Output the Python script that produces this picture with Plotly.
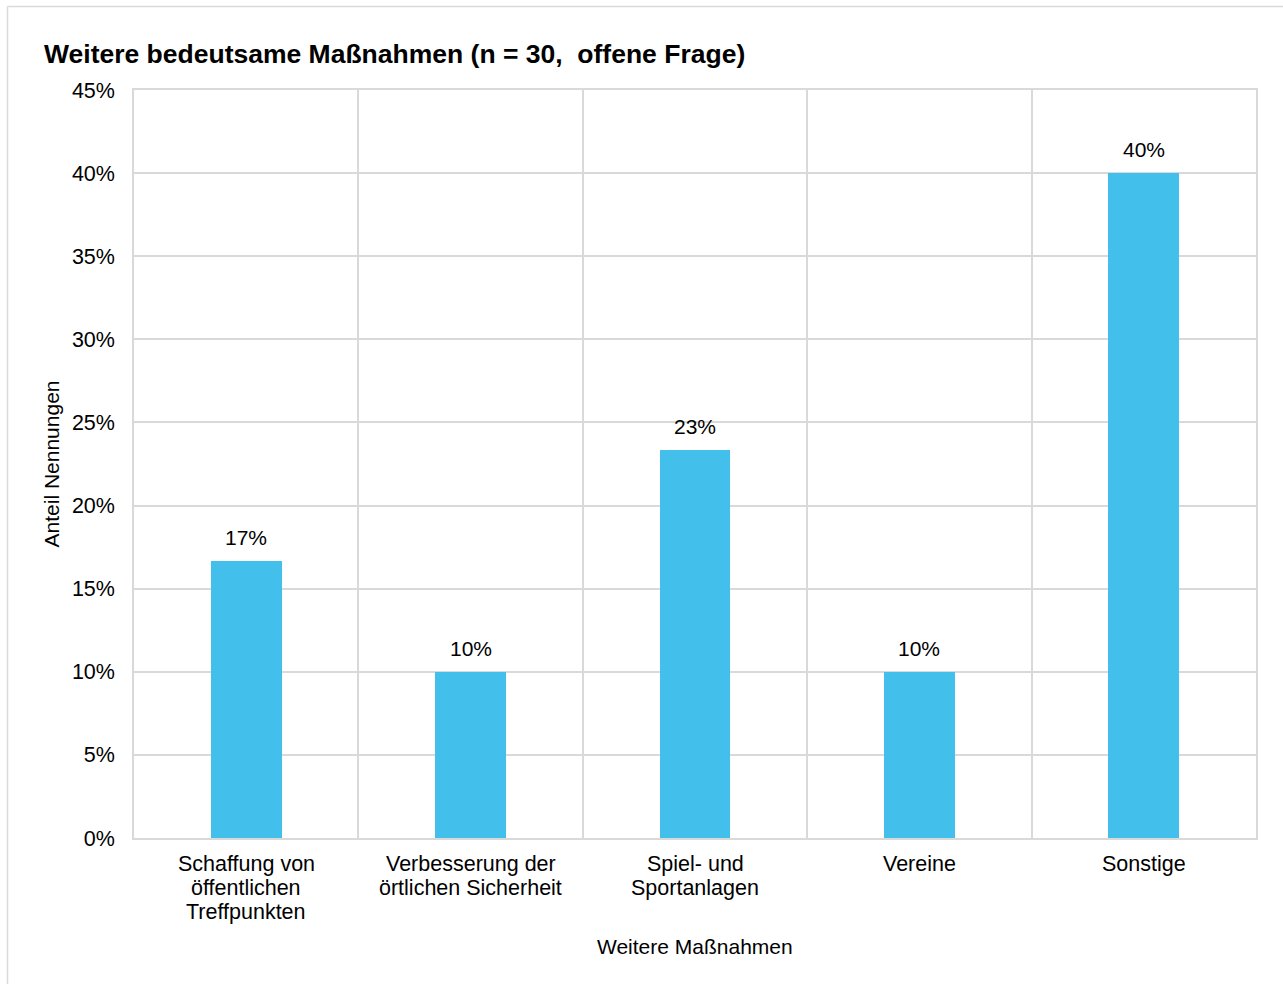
import plotly.graph_objects as go

categories = [
    "Schaffung von<br>öffentlichen<br>Treffpunkten",
    "Verbesserung der<br>örtlichen Sicherheit",
    "Spiel- und<br>Sportanlagen",
    "Vereine",
    "Sonstige",
]
shares = [0.1667, 0.10, 0.2333, 0.10, 0.40]
y_ticks = [0, 0.05, 0.10, 0.15, 0.20, 0.25, 0.30, 0.35, 0.40, 0.45]

title_text = "Weitere bedeutsame Maßnahmen (n = 30,  offene Frage)"
x_title = "Weitere Maßnahmen"
y_title = "Anteil Nennungen"

FONT = "Liberation Sans, Arial, sans-serif"
GRID = "#d9d9d9"
BAR = "#42c0eb"
FS = 21.5

fig = go.Figure()
fig.add_trace(go.Bar(
    x=categories, y=shares, marker_color=BAR, marker_line_width=0,
    width=0.315, hoverinfo="skip",
))

# value labels above bars
for c, v in zip(categories, shares):
    fig.add_annotation(x=c, y=v, text=f"{v:.0%}", showarrow=False,
                       yanchor="bottom", yshift=10,
                       font=dict(family=FONT, size=21, color="#000000"))

# category labels (tighter line spacing than plotly's default)
LINE_H = 24
for c in categories:
    for i, line in enumerate(c.split("<br>")):
        fig.add_annotation(x=c, xref="x", y=0, yref="paper", text=line,
                           showarrow=False, yanchor="middle",
                           yshift=-(26 + LINE_H * i),
                           font=dict(family=FONT, size=FS, color="#000000"))

# x-axis title
fig.add_annotation(x=0.5, xref="paper", y=0, yref="paper", text=x_title,
                   showarrow=False, yanchor="middle", yshift=-108,
                   font=dict(family=FONT, size=21, color="#000000"))

W, H = 1283, 984
L, R, T, B = 134, 27, 90, 146
pw, ph = W - L - R, H - T - B

def px_x(p):
    return (p - L) / pw

def px_y(p):
    return (H - B - p) / ph

# outer chart frame
fig.add_shape(type="line", xref="paper", yref="paper",
              x0=px_x(7.5), x1=px_x(1300), y0=px_y(6.5), y1=px_y(6.5),
              line=dict(color=GRID, width=1.5))
fig.add_shape(type="line", xref="paper", yref="paper",
              x0=px_x(7.5), x1=px_x(7.5), y0=px_y(6.5), y1=px_y(1000),
              line=dict(color=GRID, width=1.5))

fig.update_layout(
    width=W, height=H,
    margin=dict(l=L, r=R, t=T, b=B, pad=0),
    paper_bgcolor="white", plot_bgcolor="white",
    font=dict(family=FONT, size=FS, color="#000000"),
    showlegend=False,
    title=dict(text=f"<b>{title_text}</b>", x=44 / W, xanchor="left",
               xref="container", y=1 - 54 / H, yanchor="middle",
               yref="container",
               font=dict(family=FONT, size=26.5, color="#000000")),
    bargap=0,
)
fig.update_xaxes(
    type="category", tickson="boundaries", showgrid=True, gridcolor=GRID,
    gridwidth=1.5, showline=True, linecolor=GRID, linewidth=1.5, mirror=True,
    ticks="", showticklabels=False,
)
fig.update_yaxes(
    range=[0, 0.45], tickvals=y_ticks, tickformat=".0%",
    showgrid=True, gridcolor=GRID, gridwidth=1.5, zeroline=False,
    showline=True, linecolor=GRID, linewidth=1.5, mirror=True,
    ticks="", ticklabelstandoff=13,
    tickfont=dict(family=FONT, size=FS, color="#000000"),
    title=dict(text=y_title, standoff=7,
               font=dict(family=FONT, size=21, color="#000000")),
)

fig.write_html("out.html", config={"displayModeBar": False},
               post_script="document.body.style.margin='0';")
